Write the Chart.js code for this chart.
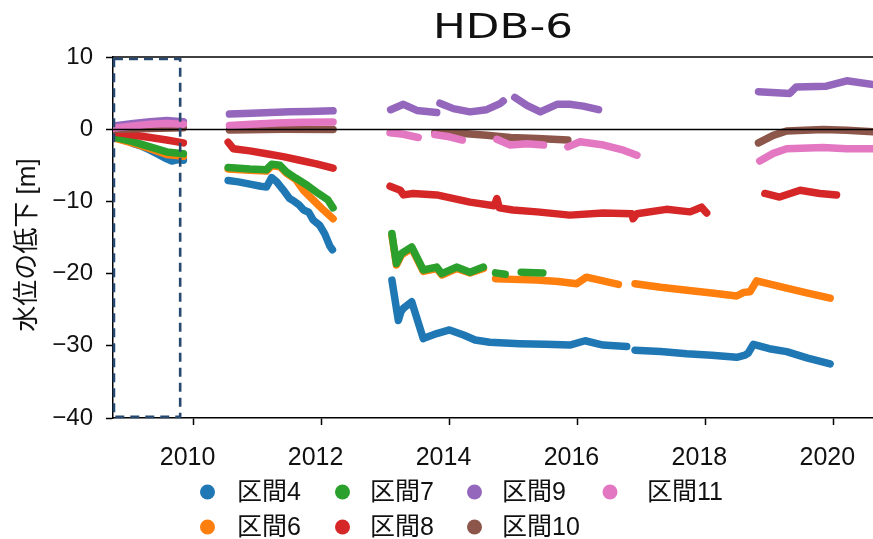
<!DOCTYPE html>
<html>
<head>
<meta charset="utf-8">
<title>HDB-6</title>
<script src="https://cdn.jsdelivr.net/npm/chart.js@4.4.1/dist/chart.umd.min.js"></script>
<style>
  html, body { margin: 0; padding: 0; background: #fff; }
  #wrap { width: 873px; height: 539px; }
</style>
</head>
<body>
<div id="wrap"><canvas id="c" width="873" height="539"></canvas></div>
<script>
// HDB-6 observation well: water-level decline per screened interval.
// Each record is [decimal year, decline in m]; a null value marks a break in logging.
const chartTitle = 'HDB-6';
const yAxisTitle = '水位の低下 [m]';
const xTicks = [2010, 2012, 2014, 2016, 2018, 2020];
const yTicks = [-40, -30, -20, -10, 0, 10];
const xRange = [2008.74, 2020.62];
const yRange = [-40, 10];
// highlighted initial period (dashed frame)
const boxYears = [2008.755, 2009.79];
const boxLevels = [-39.85, 9.72];

const seriesNames = ['区間4', '区間6', '区間7', '区間8', '区間9', '区間10', '区間11'];
const seriesColors = ['#1f77b4', '#ff7f0e', '#2ca02c', '#d62728', '#9467bd', '#8c564b', '#e377c2'];

const zone4 = [
  [2008.75, -0.8], [2008.9, -1.3], [2009.06, -2.0], [2009.2, -2.4], [2009.32, -2.9], [2009.45, -3.5],
  [2009.58, -4.1], [2009.66, -4.4], [2009.76, -4.2], [2009.84, -4.3],
  [2010.2, null],
  [2010.54, -7.1], [2010.7, -7.3], [2010.88, -7.6], [2011.05, -7.9], [2011.14, -8.0], [2011.22, -6.7],
  [2011.3, -7.3], [2011.4, -8.4], [2011.5, -9.6], [2011.56, -9.9], [2011.65, -10.5], [2011.72, -11.2],
  [2011.8, -11.5], [2011.87, -12.6], [2011.97, -13.3], [2012.05, -14.5], [2012.13, -16.2], [2012.17, -16.7],
  [2012.6, null],
  [2013.10, -20.9], [2013.20, -26.5], [2013.24, -25.3], [2013.28, -24.8], [2013.41, -23.9], [2013.59, -29.0],
  [2013.80, -28.3], [2014.0, -27.8], [2014.22, -28.5], [2014.4, -29.2], [2014.63, -29.5], [2015.1, -29.7],
  [2015.5, -29.8], [2015.88, -29.9], [2016.12, -29.3], [2016.4, -29.9], [2016.77, -30.1],
  [2016.83, null],
  [2016.90, -30.6], [2017.3, -30.8], [2017.71, -31.1], [2018.1, -31.3], [2018.49, -31.6], [2018.62, -31.3],
  [2018.67, -31.0], [2018.75, -29.8], [2019.0, -30.4], [2019.27, -30.8], [2019.6, -31.7], [2019.95, -32.5]
];

const zone6 = [
  [2008.75, -1.2], [2009.06, -1.95], [2009.32, -2.7], [2009.58, -3.5], [2009.84, -3.75],
  [2010.2, null],
  [2010.54, -5.5], [2010.88, -5.7], [2011.14, -5.8], [2011.22, -5.05], [2011.35, -5.2], [2011.45, -6.1],
  [2011.6, -7.0], [2011.72, -8.5], [2011.87, -9.8], [2012.03, -11.2], [2012.18, -12.4],
  [2012.6, null],
  [2013.10, -14.7], [2013.17, -18.8], [2013.25, -17.4], [2013.41, -16.5], [2013.59, -19.7], [2013.80, -19.3],
  [2013.88, -20.2], [2014.11, -19.3], [2014.32, -19.9], [2014.53, -19.3],
  [2014.62, null],
  [2014.72, -20.7], [2015.0, -20.8], [2015.36, -20.9], [2015.7, -21.1], [2015.99, -21.4], [2016.14, -20.5],
  [2016.4, -21.0], [2016.64, -21.5],
  [2016.8, null],
  [2016.90, -21.4], [2017.3, -21.9], [2017.71, -22.3], [2018.1, -22.7], [2018.49, -23.1], [2018.6, -22.6],
  [2018.70, -22.5], [2018.80, -21.0], [2019.27, -22.0], [2019.6, -22.7], [2019.95, -23.4]
];

const zone7 = [
  [2008.75, -1.1], [2009.06, -1.75], [2009.32, -2.45], [2009.58, -3.15], [2009.84, -3.4],
  [2010.2, null],
  [2010.54, -5.3], [2010.88, -5.5], [2011.14, -5.6], [2011.22, -4.85], [2011.35, -5.0], [2011.45, -5.9],
  [2011.6, -6.8], [2011.78, -7.8], [2011.95, -8.9], [2012.1, -9.8], [2012.18, -10.9],
  [2012.6, null],
  [2013.10, -14.45], [2013.17, -18.6], [2013.25, -17.2], [2013.41, -16.3], [2013.59, -19.5], [2013.80, -19.1],
  [2013.88, -20.0], [2014.11, -19.1], [2014.32, -19.8], [2014.53, -19.1],
  [2014.62, null],
  [2014.72, -19.9], [2014.87, -20.1],
  [2015.0, null],
  [2015.12, -19.8], [2015.46, -19.9]
];

const zone8 = [
  [2008.75, -0.4], [2009.06, -0.8], [2009.32, -1.15], [2009.58, -1.5], [2009.84, -1.9],
  [2010.2, null],
  [2010.54, -1.8], [2010.62, -2.7], [2010.88, -3.0], [2011.14, -3.4], [2011.40, -3.8], [2011.66, -4.3],
  [2011.92, -4.8], [2012.18, -5.4],
  [2012.6, null],
  [2013.07, -7.9], [2013.23, -8.45], [2013.28, -9.1], [2013.43, -8.9], [2013.8, -9.1], [2014.32, -10.1],
  [2014.70, -10.6], [2014.74, -9.6], [2014.78, -10.9], [2014.99, -11.2], [2015.37, -11.45], [2015.88, -11.9],
  [2016.4, -11.6], [2016.85, -11.7], [2016.87, -12.4], [2016.93, -11.7], [2017.39, -11.1], [2017.76, -11.45],
  [2017.94, -10.8], [2018.02, -11.6],
  [2018.5, null],
  [2018.93, -8.9], [2019.16, -9.4], [2019.48, -8.45], [2019.79, -8.9], [2020.05, -9.1]
];

const zone9 = [
  [2008.75, 0.45], [2009.06, 0.8], [2009.32, 1.05], [2009.58, 1.2], [2009.84, 1.05],
  [2010.2, null],
  [2010.56, 2.1], [2010.9, 2.2], [2011.2, 2.3], [2011.5, 2.4], [2011.8, 2.45], [2012.18, 2.55],
  [2012.6, null],
  [2013.08, 2.7], [2013.28, 3.45], [2013.49, 2.6], [2013.8, 2.3],
  [2013.83, null],
  [2013.85, 3.6], [2014.06, 2.85], [2014.32, 2.4], [2014.58, 2.7], [2014.79, 3.55], [2014.84, 3.9],
  [2014.93, null],
  [2015.02, 4.4], [2015.21, 3.3], [2015.42, 2.4], [2015.68, 3.45], [2015.88, 3.45], [2016.09, 3.2], [2016.33, 2.7],
  [2017.5, null],
  [2018.83, 5.2], [2019.32, 4.95], [2019.42, 5.85], [2019.89, 5.95], [2020.21, 6.7], [2020.62, 6.2]
];

const zone10 = [
  [2008.75, 0.0], [2009.3, 0.1], [2009.84, 0.2],
  [2010.2, null],
  [2010.56, -0.1], [2011.4, 0.0], [2012.18, -0.05],
  [2012.6, null],
  [2013.77, -0.5], [2014.22, -0.6], [2014.58, -0.85], [2014.95, -1.15], [2015.37, -1.3], [2015.85, -1.5],
  [2017.5, null],
  [2018.83, -1.9], [2019.06, -0.85], [2019.27, -0.25], [2019.84, -0.05], [2020.21, -0.15], [2020.62, -0.35]
];

const zone11 = [
  [2008.75, 0.15], [2009.06, 0.45], [2009.32, 0.7], [2009.58, 0.8], [2009.84, 0.7],
  [2010.2, null],
  [2010.56, 0.5], [2010.9, 0.7], [2011.3, 0.85], [2011.7, 0.95], [2012.18, 1.0],
  [2012.6, null],
  [2013.07, -0.5], [2013.28, -0.7], [2013.51, -1.15],
  [2013.6, null],
  [2013.77, -0.75], [2014.0, -1.05], [2014.2, -1.5],
  [2014.5, null],
  [2014.74, -1.4], [2014.95, -2.2], [2015.21, -2.0], [2015.47, -2.2],
  [2015.6, null],
  [2015.85, -2.45], [2016.04, -1.75], [2016.41, -2.2], [2016.72, -2.9], [2016.93, -3.6],
  [2017.5, null],
  [2018.85, -4.4], [2019.06, -3.35], [2019.27, -2.7], [2019.84, -2.55], [2020.21, -2.7], [2020.62, -2.7]
];

const seriesData = [zone4, zone6, zone7, zone8, zone9, zone10, zone11];

// legend is laid out column-first in four columns
const legendColumns = [[0, 1], [2, 3], [4, 5], [6]];
const legendMarkerX = [207.5, 342.5, 474.5, 610];
const legendTextX = [237, 370, 502, 647];
const legendRowY = [492, 527];

const LATIN_JP = "'Liberation Sans', 'Noto Sans CJK JP', sans-serif";

const datasets = seriesData.map((rows, i) => ({
  label: seriesNames[i],
  data: rows.map(([x, y]) => ({ x, y })),
  borderColor: seriesColors[i],
  backgroundColor: seriesColors[i],
  borderWidth: 7.5,
  borderCapStyle: 'round',
  borderJoinStyle: 'round',
  pointRadius: 0,
  tension: 0,
  spanGaps: false,
  // later intervals are painted on top of earlier ones
  order: seriesData.length - i
}));

const decor = {
  id: 'decor',
  afterDatasetsDraw(chart) {
    const { ctx, chartArea: a, scales: { x, y } } = chart;
    ctx.save();
    ctx.strokeStyle = '#000';
    ctx.lineWidth = 1.5;
    const y0 = Math.round(y.getPixelForValue(0)) + 0.5;
    ctx.beginPath(); ctx.moveTo(a.left, y0); ctx.lineTo(a.right, y0); ctx.stroke();
    ctx.beginPath(); ctx.moveTo(a.left, a.top); ctx.lineTo(a.right, a.top); ctx.stroke();

    const bx0 = x.getPixelForValue(boxYears[0]);
    const bx1 = x.getPixelForValue(boxYears[1]);
    const byTop = y.getPixelForValue(boxLevels[1]);
    const byBot = y.getPixelForValue(boxLevels[0]);
    ctx.strokeStyle = '#28496f';
    ctx.lineWidth = 2.6;
    ctx.setLineDash([9, 6]);
    ctx.strokeRect(bx0, byTop, bx1 - bx0, byBot - byTop);
    ctx.restore();
  },
  afterDraw(chart) {
    const { ctx } = chart;
    ctx.save();
    ctx.fillStyle = '#111';

    // title, drawn slightly widened
    ctx.font = "33px 'DejaVu Sans'";
    ctx.textBaseline = 'alphabetic';
    ctx.textAlign = 'center';
    const tw = ctx.measureText(chartTitle).width;
    const sx = 140 / tw;
    ctx.save();
    ctx.translate(503, 38);
    ctx.scale(sx, 1);
    ctx.fillText(chartTitle, 0, 0);
    ctx.restore();

    // y axis title
    ctx.save();
    ctx.translate(28, 245);
    ctx.rotate(-Math.PI / 2);
    ctx.font = '26px ' + LATIN_JP;
    ctx.textAlign = 'center';
    ctx.textBaseline = 'middle';
    ctx.fillText(yAxisTitle, 0, 0);
    ctx.restore();

    // legend
    ctx.font = '25px ' + LATIN_JP;
    ctx.textAlign = 'left';
    ctx.textBaseline = 'middle';
    legendColumns.forEach((col, c) => {
      col.forEach((si, r) => {
        const cy = legendRowY[r];
        ctx.fillStyle = seriesColors[si];
        ctx.beginPath();
        ctx.arc(legendMarkerX[c], cy, 7.5, 0, Math.PI * 2);
        ctx.fill();
        ctx.fillStyle = '#111';
        ctx.fillText(seriesNames[si], legendTextX[c], cy + 1);
      });
    });
    ctx.restore();
  }
};

new Chart(document.getElementById('c'), {
  type: 'line',
  data: { datasets },
  options: {
    responsive: false,
    animation: false,
    events: [],
    layout: { padding: { top: 57, right: 0, bottom: 0, left: 0 } },
    plugins: { legend: { display: false }, tooltip: { enabled: false }, title: { display: false } },
    scales: {
      x: {
        type: 'linear',
        min: xRange[0],
        max: xRange[1],
        afterBuildTicks: s => { s.ticks = xTicks.map(v => ({ value: v })); },
        afterFit: s => { s.height = 121; s.paddingLeft = 0; s.paddingRight = 0; },
        grid: { drawOnChartArea: false, drawTicks: true, tickLength: 7, tickColor: '#000', tickWidth: 1.5 },
        border: { display: true, color: '#000', width: 1.5 },
        ticks: {
          color: '#111',
          font: { family: "'Liberation Sans', Arial, sans-serif", size: 25 },
          padding: 18,
          maxRotation: 0,
          autoSkip: false,
          labelOffset: -6,
          callback: v => String(v)
        }
      },
      y: {
        type: 'linear',
        min: yRange[0],
        max: yRange[1],
        afterBuildTicks: s => { s.ticks = yTicks.map(v => ({ value: v })); },
        afterFit: s => { s.width = 113; s.paddingTop = 0; s.paddingBottom = 0; },
        grid: { drawOnChartArea: false, drawTicks: true, tickLength: 7, tickColor: '#000', tickWidth: 1.5 },
        border: { display: true, color: '#000', width: 1.5 },
        ticks: {
          color: '#111',
          font: { family: "'Liberation Sans', Arial, sans-serif", size: 24 },
          padding: 13,
          callback: v => String(v).replace('-', '\u2212')
        }
      }
    }
  },
  plugins: [decor]
});
</script>
</body>
</html>
